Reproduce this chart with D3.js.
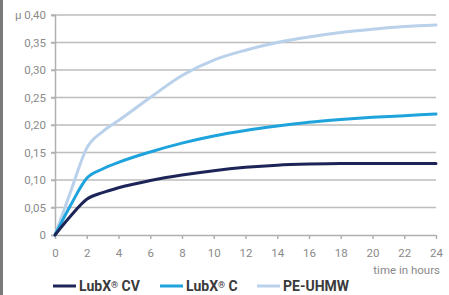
<!DOCTYPE html>
<html>
<head>
<meta charset="utf-8">
<script src="https://cdn.jsdelivr.net/npm/d3@7"></script>
<style>
  body { margin: 0; background: #fff; }
  svg { display: block; }
  .tick-label { font-family: "Liberation Sans Narrow", "Roboto", sans-serif; font-size: 11.5px; fill: #8a8a8a; }
  .legend-text { font-family: "Roboto", "Liberation Sans", sans-serif; font-size: 14px; font-weight: bold; fill: #3a3a3a; }
</style>
</head>
<body>
<div id="chart"></div>
<script>
// friction coefficient over time
const hours = [0, 1, 2, 3, 4, 6, 8, 10, 12, 14, 16, 18, 20, 22, 24];
const lubxCV = [0, 0.035, 0.065, 0.077, 0.086, 0.099, 0.109, 0.117, 0.123, 0.127, 0.129, 0.13, 0.13, 0.13, 0.13];
const lubxC = [0, 0.055, 0.103, 0.12, 0.132, 0.151, 0.167, 0.18, 0.19, 0.198, 0.205, 0.21, 0.214, 0.217, 0.22];
const peUhmw = [0, 0.08, 0.158, 0.188, 0.208, 0.25, 0.29, 0.318, 0.336, 0.35, 0.36, 0.368, 0.374, 0.379, 0.382];
const seriesNames = ["LubX\u00AE CV", "LubX\u00AE C", "PE-UHMW"];
const seriesColors = ["#1d2558", "#1ea3dc", "#b9d1ea"];
const yTicks = [0, 0.05, 0.1, 0.15, 0.2, 0.25, 0.3, 0.35, 0.4];
const xTicks = [0, 2, 4, 6, 8, 10, 12, 14, 16, 18, 20, 22, 24];

const W = 449, H = 295;
const svg = d3.select("#chart").append("svg").attr("width", W).attr("height", H);

// grey strip at the left edge
svg.append("rect").attr("x", 0).attr("y", 0).attr("width", 3).attr("height", H).attr("fill", "#7a7a7a");

const x = d3.scaleLinear().domain([0, 24]).range([55, 436]);
const y = d3.scaleLinear().domain([0, 0.4]).range([235, 15]);

const fmt = v => v === 0 ? "0" : d3.format(".2f")(v).replace(".", ",");

// horizontal grid
svg.append("g").selectAll("line").data(yTicks.filter(v => v > 0)).join("line")
  .attr("x1", 51).attr("x2", 436)
  .attr("y1", d => y(d)).attr("y2", d => y(d))
  .attr("stroke", "#bdbdbd").attr("stroke-width", 1.5);

// y axis
const yAxis = svg.append("g").attr("transform", "translate(55,0)")
  .call(d3.axisLeft(y).tickValues(yTicks).tickSize(4).tickPadding(5).tickFormat(d => d === 0.4 ? "\u03BC " + fmt(d) : fmt(d)));
yAxis.select(".domain").attr("stroke", "#b0b0b0").attr("stroke-width", 1.5);
yAxis.selectAll(".tick line").attr("stroke", "#b0b0b0").attr("stroke-width", 1.5);
yAxis.selectAll("text").attr("class", "tick-label").attr("fill", null);

// x axis
const xAxis = svg.append("g").attr("transform", `translate(0,${y(0)})`)
  .call(d3.axisBottom(x).tickValues(xTicks).tickSize(4).tickPadding(10).tickSizeOuter(0));
xAxis.select(".domain").attr("stroke", "#b0b0b0").attr("stroke-width", 1.5);
xAxis.selectAll(".tick line").attr("stroke", "#b0b0b0").attr("stroke-width", 1.5);
xAxis.selectAll("text").attr("class", "tick-label").attr("fill", null);

svg.append("text").attr("class", "tick-label")
  .attr("x", 440).attr("y", 274).attr("text-anchor", "end").text("time in hours");

// curves, light one drawn first
const allSeries = [lubxCV, lubxC, peUhmw];
const line = d3.line().x((d, i) => x(hours[i])).y(d => y(d)).curve(d3.curveMonotoneX);
[2, 1, 0].forEach(k => {
  svg.append("path").datum(allSeries[k])
    .attr("d", line).attr("fill", "none")
    .attr("stroke", seriesColors[k]).attr("stroke-width", 3)
    .attr("stroke-linecap", "round").attr("stroke-linejoin", "round");
});

// legend
const legendX = [53, 160, 257];
const legend = svg.append("g").selectAll("g").data(seriesNames).join("g")
  .attr("transform", (d, i) => `translate(${legendX[i]},286)`);
legend.append("line").attr("x1", 0).attr("x2", 23).attr("y1", 0).attr("y2", 0)
  .attr("stroke", (d, i) => seriesColors[i]).attr("stroke-width", 3);
legend.append("text").attr("class", "legend-text").attr("x", 26).attr("y", 5)
  .each(function (d) {
    const t = d3.select(this);
    const parts = d.split("\u00AE");
    t.append("tspan").text(parts[0]);
    if (parts.length > 1) {
      t.append("tspan").attr("font-size", "9px").attr("dy", -3).text("\u00AE");
      t.append("tspan").attr("dy", 3).text(parts[1]);
    }
  });
</script>
</body>
</html>
